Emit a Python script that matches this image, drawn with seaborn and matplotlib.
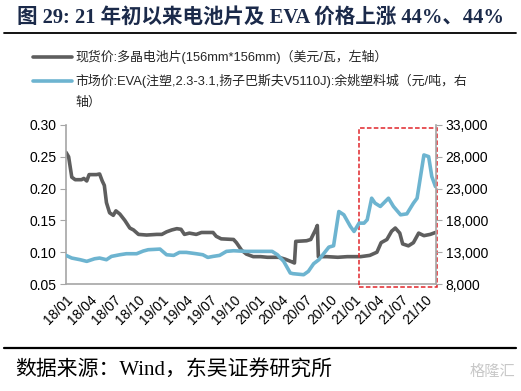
import matplotlib
matplotlib.use('Agg')
import matplotlib.pyplot as plt
import matplotlib.dates as mdates
import matplotlib.ticker as mticker
from matplotlib.lines import Line2D
from matplotlib.patches import Rectangle
import seaborn as sns
import pandas as pd

# ---------------- data ----------------
cell_dates = ["2018-01-01", "2018-01-11", "2018-01-23", "2018-02-05", "2018-03-01", "2018-03-10",
              "2018-03-21", "2018-03-30", "2018-04-27", "2018-05-09", "2018-05-19", "2018-05-27",
              "2018-06-04", "2018-06-16", "2018-06-30", "2018-07-10", "2018-07-25", "2018-08-13",
              "2018-09-01", "2018-09-15", "2018-10-04", "2018-11-04", "2018-12-13", "2019-01-01",
              "2019-01-19", "2019-02-08", "2019-02-27", "2019-03-15", "2019-03-28", "2019-04-16",
              "2019-05-12", "2019-06-01", "2019-07-15", "2019-07-27", "2019-08-15", "2019-10-01",
              "2019-10-12", "2019-11-01", "2019-11-19", "2019-12-15", "2020-01-12", "2020-02-07",
              "2020-03-21", "2020-04-15", "2020-05-09", "2020-05-20", "2020-05-25", "2020-07-05",
              "2020-07-21", "2020-08-08", "2020-08-15", "2020-08-19", "2020-09-21", "2020-11-01",
              "2020-12-07", "2021-01-27", "2021-03-03", "2021-03-30", "2021-04-15", "2021-05-07",
              "2021-05-25", "2021-06-08", "2021-06-25", "2021-07-06", "2021-07-28", "2021-08-16",
              "2021-09-05", "2021-09-25", "2021-10-19", "2021-11-08"]
cell_price = [0.257, 0.250, 0.218, 0.214, 0.214, 0.216,
              0.212, 0.222, 0.222, 0.223, 0.212, 0.205,
              0.178, 0.162, 0.158, 0.165, 0.160, 0.150,
              0.138, 0.135, 0.128, 0.127, 0.128, 0.128,
              0.132, 0.135, 0.137, 0.136, 0.128, 0.130,
              0.128, 0.131, 0.131, 0.125, 0.121, 0.120,
              0.115, 0.103, 0.097, 0.093, 0.093, 0.092,
              0.092, 0.089, 0.085, 0.083, 0.117, 0.118,
              0.120, 0.135, 0.142, 0.093, 0.093, 0.092,
              0.093, 0.093, 0.095, 0.100, 0.115, 0.120,
              0.133, 0.138, 0.130, 0.113, 0.110, 0.115,
              0.130, 0.126, 0.128, 0.131]

eva_dates = ["2018-01-01", "2018-01-23", "2018-02-24", "2018-03-21", "2018-04-20", "2018-05-09",
             "2018-06-04", "2018-06-23", "2018-07-25", "2018-08-19", "2018-09-27", "2018-10-22",
             "2018-11-10", "2018-12-25", "2019-01-19", "2019-02-15", "2019-03-09", "2019-04-04",
             "2019-05-12", "2019-06-06", "2019-06-25", "2019-07-15", "2019-08-09", "2019-09-04",
             "2019-10-01", "2019-11-19", "2020-01-09", "2020-02-25", "2020-03-16", "2020-04-09",
             "2020-05-04", "2020-05-15", "2020-06-24", "2020-07-12", "2020-08-01", "2020-08-21",
             "2020-09-10", "2020-09-28", "2020-10-16", "2020-11-05", "2020-11-24", "2020-12-19",
             "2021-01-02", "2021-01-21", "2021-02-09", "2021-02-21", "2021-03-10", "2021-03-23",
             "2021-04-12", "2021-05-13", "2021-06-01", "2021-06-28", "2021-07-22", "2021-08-16",
             "2021-08-30", "2021-09-25", "2021-10-13", "2021-10-25", "2021-11-08"]
eva_price = [12500, 12080, 11820, 11560, 11970, 12080,
             11820, 12340, 12600, 12760, 12760, 13180,
             13390, 13490, 12600, 12500, 12970, 12970,
             12760, 12600, 12180, 12340, 12500, 13130,
             13230, 13130, 13130, 13130, 12600, 11560,
             9730, 9620, 9460, 9990, 11190, 11820,
             12860, 13800, 14010, 19400, 18880, 17050,
             16260, 17570, 17570, 18100, 21490, 20710,
             20190, 21490, 20190, 18880, 19030, 20710,
             21490, 28290, 28030, 24900, 23320]

title_text = "图 29: 21 年初以来电池片及 EVA 价格上涨 44%、44%"
cell_label = "现货价:多晶电池片(156mm*156mm)（美元/瓦，左轴）"
eva_label_l1 = "市场价:EVA(注塑,2.3-3.1,扬子巴斯夫V5110J):余姚塑料城（元/吨，右"
eva_label_l2 = "轴）"
source_text = "数据来源：Wind，东吴证券研究所"
watermark = "格隆汇"
left_ticks = [0.05, 0.10, 0.15, 0.20, 0.25, 0.30]
right_ticks = [8000, 13000, 18000, 23000, 28000, 33000]
x_start, x_end = "2018-01-01", "2021-11-10"

# ---------------- style ----------------
GRAY = "#5E5E5E"
BLUE = "#6DB4D0"
AXIS = "#A6A6A6"
sns.set_style("white")
plt.rcParams['font.family'] = ['Liberation Sans', 'Noto Sans CJK SC', 'DejaVu Sans']
SERIF = ['Liberation Serif', 'Noto Sans CJK SC', 'DejaVu Sans']

W, H = 521, 391
fig = plt.figure(figsize=(W / 100, H / 100), dpi=100)
ax = fig.add_axes([66 / W, 1 - 284 / H, 370 / W, 159 / H])
ax2 = ax.twinx()

df_cell = pd.DataFrame({"date": pd.to_datetime(cell_dates), "price": cell_price})
df_eva = pd.DataFrame({"date": pd.to_datetime(eva_dates), "price": eva_price})

sns.lineplot(data=df_cell, x="date", y="price", ax=ax, color=GRAY, linewidth=2.6)
sns.lineplot(data=df_eva, x="date", y="price", ax=ax2, color=BLUE, linewidth=2.6)

ax.set_xlim(pd.Timestamp(x_start), pd.Timestamp(x_end))
ax.set_ylim(left_ticks[0], left_ticks[-1])
ax2.set_ylim(right_ticks[0], right_ticks[-1])
ax.set_yticks(left_ticks)
ax.yaxis.set_major_formatter(mticker.FormatStrFormatter('%.2f'))
ax2.set_yticks(right_ticks)
ax2.yaxis.set_major_formatter(mticker.FuncFormatter(lambda v, p: f"{int(v):,}"))
ax.set_xticks(pd.date_range("2018-01-01", "2021-10-01", freq="QS"))
ax.xaxis.set_major_formatter(mdates.DateFormatter("%y/%m"))

for a in (ax, ax2):
    a.set_xlabel("")
    a.set_ylabel("")
    for s in a.spines.values():
        s.set_color(AXIS)
        s.set_linewidth(1.2)
    a.spines['top'].set_visible(False)
ax.spines['right'].set_visible(False)
ax2.spines['left'].set_visible(False)
ax2.spines['bottom'].set_visible(False)

ax.tick_params(axis='y', direction='out', length=4, color=AXIS, labelsize=10, pad=3, labelcolor='black')
ax.tick_params(axis='x', direction='out', length=4, color=AXIS, labelsize=10, pad=2, labelcolor='black')
ax2.tick_params(axis='y', direction='out', length=4, color=AXIS, labelsize=10, pad=3, labelcolor='black')
for lbl in ax.get_xticklabels():
    lbl.set_rotation(45)
    lbl.set_ha('right')
    lbl.set_rotation_mode('anchor')

# highlight box
ax.add_patch(Rectangle((0.792, -0.02), 0.211, 1.0, transform=ax.transAxes, fill=False,
                       edgecolor="#E0262B", linestyle=(0, (3, 1.5)), linewidth=1.1,
                       clip_on=False, zorder=5))

# title & rules
fig.text(17 / W, 1 - 18 / H, title_text, fontsize=14.8, fontweight='bold', color="#1B2A4A",
         family=SERIF, va='center', ha='left')
fig.add_artist(Line2D([4 / W, 516 / W], [1 - 33 / H, 1 - 33 / H], color='black', linewidth=1.3))
fig.add_artist(Line2D([4 / W, 516 / W], [1 - 348 / H, 1 - 348 / H], color='black', linewidth=1.6))
fig.text(15 / W, 1 - 371 / H, source_text, fontsize=15, family=SERIF, va='center', ha='left',
         color='black')
fig.text(515 / W, 1 - 372 / H, watermark, fontsize=11, color="#C8C8C8", va='center', ha='right')

# legend (manual)
fig.add_artist(Line2D([33 / W, 72 / W], [1 - 57 / H, 1 - 57 / H], color=GRAY, linewidth=2.6))
fig.add_artist(Line2D([33 / W, 72 / W], [1 - 81 / H, 1 - 81 / H], color=BLUE, linewidth=2.6))
fig.text(75 / W, 1 - 57 / H, cell_label, fontsize=9.3, va='center', ha='left')
fig.text(75 / W, 1 - 81 / H, eva_label_l1, fontsize=9.3, va='center', ha='left')
fig.text(75 / W, 1 - 103 / H, eva_label_l2, fontsize=9.3, va='center', ha='left')

fig.savefig("out.png", dpi=100)
